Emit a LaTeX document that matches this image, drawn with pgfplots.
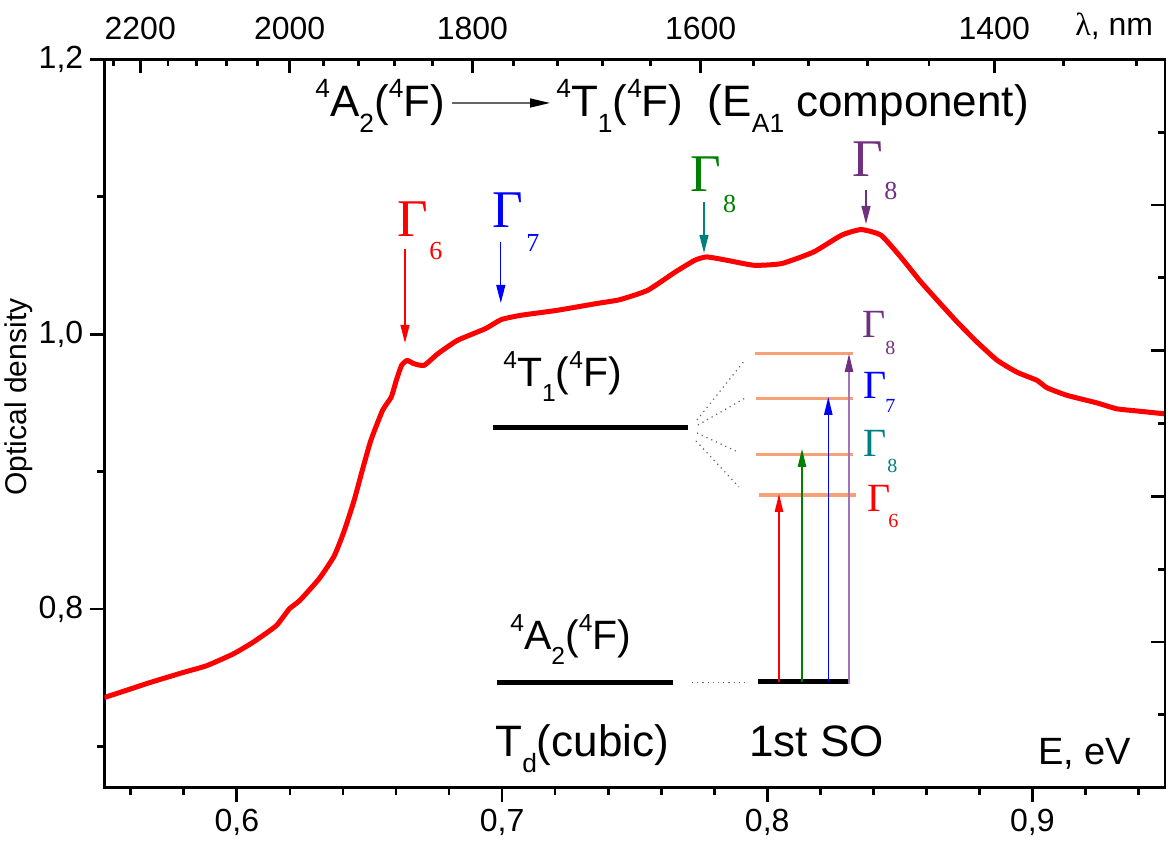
\documentclass[border=0pt]{standalone}
\usepackage{pgfplots}
\pgfplotsset{compat=1.18}
\usepackage{fontspec}
\setmainfont{Liberation Sans}
\newfontfamily\tms{Liberation Serif}
\usepackage{graphicx}
\usetikzlibrary{arrows.meta}
\definecolor{myteal}{RGB}{0,128,128}
\definecolor{mygreen}{RGB}{0,128,0}
\definecolor{mypurple}{RGB}{112,48,128}
\definecolor{mypurplel}{RGB}{165,115,185}
\definecolor{lvl}{RGB}{250,160,120}
\newcommand{\su}[1]{\raisebox{0.45em}{\scalebox{0.6}{#1}}}
\newcommand{\sd}[1]{\raisebox{-0.36em}{\scalebox{0.6}{#1}}}
\pgfplotstableread{
x y
0.5500 0.7356
0.5570 0.7400
0.5672 0.7465
0.5797 0.7538
0.5885 0.7587
0.5985 0.7672
0.6060 0.7757
0.6148 0.7878
0.6198 0.8002
0.6236 0.8060
0.6310 0.8220
0.6367 0.8386
0.6405 0.8570
0.6442 0.8790
0.6473 0.9010
0.6505 0.9226
0.6549 0.9444
0.6582 0.9542
0.6601 0.9663
0.6621 0.9773
0.6642 0.9809
0.6668 0.9785
0.6706 0.9773
0.6758 0.9858
0.6832 0.9955
0.6937 1.0040
0.6997 1.0106
0.7070 1.0137
0.7206 1.0173
0.7354 1.0222
0.7444 1.0251
0.7549 1.0319
0.7653 1.0452
0.7727 1.0538
0.7772 1.0562
0.7847 1.0538
0.7951 1.0501
0.8055 1.0514
0.8175 1.0598
0.8280 1.0720
0.8354 1.0761
0.8429 1.0720
0.8503 1.0562
0.8574 1.0392
0.8641 1.0247
0.8717 1.0087
0.8792 0.9941
0.8867 0.9810
0.8942 0.9723
0.9017 0.9664
0.9055 0.9610
0.9130 0.9555
0.9243 0.9500
0.9318 0.9457
0.9400 0.9440
0.9500 0.9420
}\spectrum
\begin{document}
\begin{tikzpicture}
\begin{axis}[
  at={(0pt,0pt)}, anchor=south west,
  scale only axis, width=530.35pt, height=364.2pt,
  xmin=0.55, xmax=0.95, ymin=0.67, ymax=1.2,
  axis line style={line width=1.4pt},
  xtick pos=left, ytick pos=left,
  tick align=outside,
  major tick length=7pt, minor tick length=3.5pt,
  every tick/.style={black, line width=1.4pt},
  xtick={0.6,0.7,0.8,0.9},
  xticklabels={{0,6},{0,7},{0,8},{0,9}},
  minor xtick={0.56,0.58,0.62,0.64,0.66,0.68,0.72,0.74,0.76,0.78,0.82,0.84,0.86,0.88,0.92,0.94},
  ytick={0.8,1.0,1.2},
  yticklabels={{0,8},{1,0},{1,2}},
  minor ytick={0.7,0.9,1.1},
  tick label style={font=\fontsize{16}{16}\selectfont},
]
\addplot[red, line width=2.5pt, line join=round, smooth, tension=0.3] table[x=x,y=y] {\spectrum};
\end{axis}
\begin{axis}[
  at={(0pt,0pt)}, anchor=south west,
  scale only axis, width=530.35pt, height=364.2pt,
  xmin=0.55, xmax=0.95, ymin=0, ymax=10,
  axis x line*=top, axis y line*=right,
  x axis line style={-}, y axis line style={-},
  axis line style={line width=1.4pt},
  tick align=inside,
  major tick length=7pt, minor tick length=3.5pt,
  every tick/.style={black, line width=1.4pt},
  xtick={0.56356,0.61992,0.68880,0.77490,0.88560},
  xticklabels={2200,2000,1800,1600,1400},
  minor xtick={0.55350,0.57400,0.58483,0.59608,0.60776,0.63257,0.64575,0.65949,0.67383,0.70445,0.72084,0.73800,0.75600,0.79477,0.81568,0.83773,0.86100,0.91165,0.93927},
  ytick={2,4,6,8}, yticklabels={},
  minor ytick={1,3,5,7,9},
  tick label style={font=\fontsize{16}{16}\selectfont},
  xticklabel style={yshift=6pt},
]
\end{axis}
\begin{scope}[x=0.5pt, y=-0.5pt, shift={(-52.15pt,393.85pt)}]
% title
\node[anchor=base west, inner sep=0, font=\fontsize{22}{22}\selectfont] at (315,117) {\su{4}A\sd{2}(\su{4}F)};
\draw[black!60, line width=0.8pt, -{Triangle[length=10pt,width=4.5pt,color=black]}] (452,103) -- (550,103);
\node[anchor=base west, inner sep=0, font=\fontsize{22}{22}\selectfont] at (556,117) {\su{4}T\sd{1}(\su{4}F)\ \ (E\sd{A1} component)};
% big Gamma labels
\node[anchor=base west, inner sep=0, text=red, font=\tms\fontsize{26.5}{26.5}\selectfont] at (397,236.7) {Γ};
\node[anchor=base west, inner sep=0, text=red, font=\tms\fontsize{13}{13}\selectfont] at (429,260) {6};
\draw[red, line width=0.6pt, -{Triangle[length=9pt,width=4.5pt]}] (405,249) -- (405,343);
\node[anchor=base west, inner sep=0, text=blue, font=\tms\fontsize{26.5}{26.5}\selectfont] at (492,228) {Γ};
\node[anchor=base west, inner sep=0, text=blue, font=\tms\fontsize{13}{13}\selectfont] at (526,252) {7};
\draw[blue, line width=0.6pt, -{Triangle[length=9pt,width=4.5pt]}] (500.8,242) -- (500.8,303);
\node[anchor=base west, inner sep=0, text=mygreen, font=\tms\fontsize{26.5}{26.5}\selectfont] at (690,191.7) {Γ};
\node[anchor=base west, inner sep=0, text=mygreen, font=\tms\fontsize{13}{13}\selectfont] at (722.6,213) {8};
\draw[myteal, line width=0.6pt, -{Triangle[length=9pt,width=4.5pt]}] (704,202) -- (704,253);
\node[anchor=base west, inner sep=0, text=mypurple, font=\tms\fontsize{26.5}{26.5}\selectfont] at (851.7,176.7) {Γ};
\node[anchor=base west, inner sep=0, text=mypurple, font=\tms\fontsize{13}{13}\selectfont] at (884,200) {8};
\draw[mypurple, line width=0.6pt, -{Triangle[length=9pt,width=4.5pt]}] (866,190) -- (866,224);
% level diagram
\node[anchor=base west, inner sep=0, font=\fontsize{20.5}{20.5}\selectfont] at (503,387) {\su{4}T\sd{1}(\su{4}F)};
\draw[line width=2.5pt] (493,428) -- (688,428);
\draw[black!60, dotted, line width=0.6pt] (697,420) -- (745,360);
\draw[black!60, dotted, line width=0.6pt] (698,425) -- (747,397);
\draw[black!60, dotted, line width=0.6pt] (697,433) -- (738,452);
\draw[black!60, dotted, line width=0.6pt] (696,441) -- (739,487);
\draw[lvl, line width=1.6pt] (755,353.3) -- (853,353.3);
\draw[lvl, line width=1.6pt] (756,398.7) -- (853,398.7);
\draw[lvl, line width=1.6pt] (756,454.7) -- (853,454.7);
\draw[lvl, line width=1.6pt] (759,495) -- (856,495);
\node[anchor=base west, inner sep=0, font=\fontsize{20.5}{20.5}\selectfont] at (510,650) {\su{4}A\sd{2}(\su{4}F)};
\draw[line width=2.5pt] (497,682.5) -- (673,682.5);
\draw[black!60, dotted, line width=0.6pt] (692,682.5) -- (748,682.5);
\draw[line width=2.5pt] (758,682) -- (848,682);
\draw[red, line width=0.6pt, -{Triangle[length=9pt,width=4.2pt]}] (779,682) -- (779,494);
\draw[mygreen, line width=0.6pt, -{Triangle[length=9pt,width=4.2pt]}] (802,682) -- (802,449);
\draw[blue, line width=0.6pt, -{Triangle[length=9pt,width=4.2pt]}] (828.3,682) -- (828.3,397);
\draw[mypurplel, line width=0.6pt, -{Triangle[length=9pt,width=4.2pt,color=mypurple]}] (849,684) -- (849,354);
% small Gamma labels
\node[anchor=base west, inner sep=0, text=mypurple, font=\tms\fontsize{20}{20}\selectfont] at (862,338) {Γ};
\node[anchor=base west, inner sep=0, text=mypurple, font=\tms\fontsize{10}{10}\selectfont] at (885,355) {8};
\node[anchor=base west, inner sep=0, text=blue, font=\tms\fontsize{20}{20}\selectfont] at (863,398.3) {Γ};
\node[anchor=base west, inner sep=0, text=blue, font=\tms\fontsize{10}{10}\selectfont] at (885,413) {7};
\node[anchor=base west, inner sep=0, text=myteal, font=\tms\fontsize{20}{20}\selectfont] at (863,456.7) {Γ};
\node[anchor=base west, inner sep=0, text=myteal, font=\tms\fontsize{10}{10}\selectfont] at (887,473) {8};
\node[anchor=base west, inner sep=0, text=red, font=\tms\fontsize{20}{20}\selectfont] at (866.7,511.7) {Γ};
\node[anchor=base west, inner sep=0, text=red, font=\tms\fontsize{10}{10}\selectfont] at (888,528) {6};
\node[anchor=base west, inner sep=0, font=\fontsize{22}{22}\selectfont] at (495,757) {T\sd{d}(cubic)};
\node[anchor=base west, inner sep=0, font=\fontsize{22}{22}\selectfont] at (749,757) {1st SO};
% axis titles
\node[anchor=base west, inner sep=0, font=\fontsize{19}{19}\selectfont] at (1038,765) {E, eV};
\node[anchor=base west, inner sep=0, font=\fontsize{16}{16}\selectfont] at (1075,36) {{\tms λ}, nm};
\node[rotate=90, anchor=base, inner sep=0, font=\fontsize{15}{15}\selectfont] at (27,397) {Optical density};
\pgfresetboundingbox
\path (0,0) rectangle (1168,845);
\end{scope}
\end{tikzpicture}
\end{document}
